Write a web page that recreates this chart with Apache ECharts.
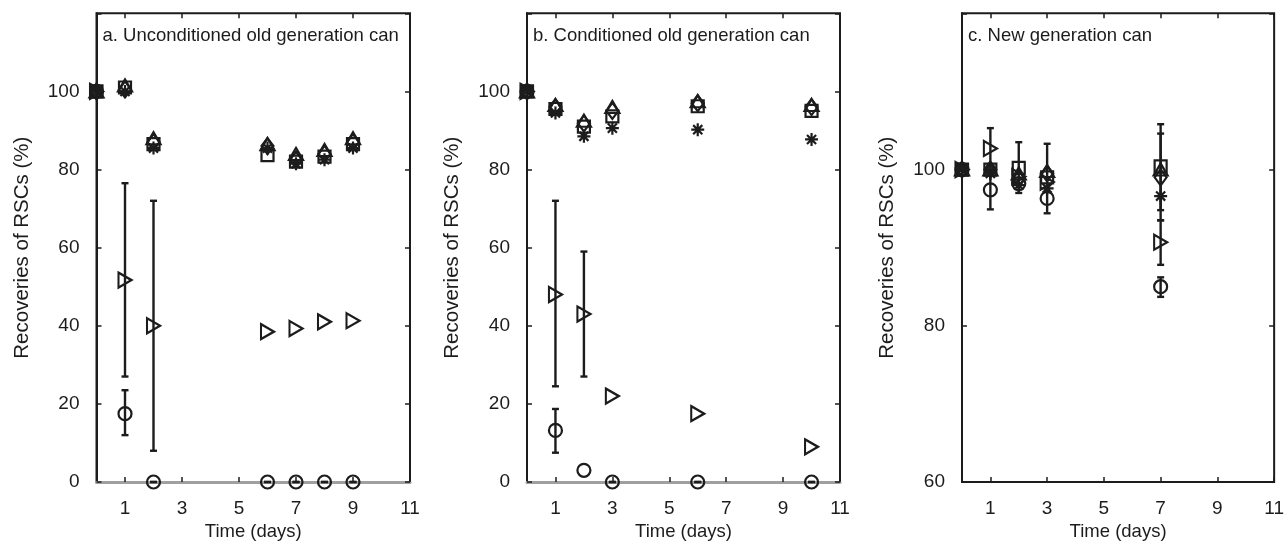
<!DOCTYPE html>
<html>
<head>
<meta charset="utf-8">
<script src="https://cdn.jsdelivr.net/npm/echarts@6/dist/echarts.min.js"></script>
<style>html,body{margin:0;padding:0;background:#fff}#c{width:1287px;height:558px}</style>
</head>
<body>
<div id="c"></div>
<script>
// ---- Data ----
const panelTitles = ['a. Unconditioned old generation can', 'b. Conditioned old generation can', 'c. New generation can'];
const xTicks = [1, 3, 5, 7, 9, 11];
const yLabelsAB = [0, 20, 40, 60, 80, 100];
const yLabelsC = [60, 80, 100];

// Panel a
const daysA = [0, 1, 2, 6, 7, 8, 9];
const circleA = [100, 17.5, 0, 0, 0, 0, 0];
const triRightA = [100, 51.7, 40, 38.5, 39.3, 41, 41.3];
const squareA = [100, 101, 86.5, 83.7, 82, 83.3, 86.5];
const diamondA = [100, 100.5, 87, 86, 82.5, 84, 87];
const triUpA = [100, 101.5, 88, 86.5, 84, 85, 88];
const asteriskA = [100, 100, 85.5, 85.5, 81.5, 82.5, 85.5];
const errA = [[1, 27, 76.5], [1, 12, 23.5], [2, 8, 72],
              [2, 0, 0], [6, 0, 0], [7, 0, 0], [8, 0, 0], [9, 0, 0]];

// Panel b
const daysB = [0, 1, 2, 3, 6, 10];
const circleB = [100, 13.2, 3, 0, 0, 0];
const triRightB = [100, 48, 43, 22, 17.5, 9];
const squareB = [100, 95.5, 91, 93.6, 96.2, 95];
const diamondB = [100, 96, 91.8, 95, 97, 96];
const triUpB = [100, 96.5, 92.5, 96, 97.5, 96.5];
const asteriskB = [100, 94.5, 88.5, 90.6, 90.2, 87.7];
const errB = [[1, 24.5, 72], [1, 7.5, 18.7], [2, 27, 59],
              [3, 0, 0], [6, 0, 0], [10, 0, 0]];

// Panel c
const daysC = [0, 1, 2, 3, 7];
const circleC = [100, 97.4, 98.2, 96.3, 85];
const triRightC = [100, 102.7, 99.1, 98.4, 90.7];
const squareC = [100, 100, 100.2, 99, 100.4];
const diamondC = [100, 100, 98.8, 99.5, 99];
const triUpC = [100, 100, 99.5, 99.8, 100];
const asteriskC = [100, 99.5, 98, 97.6, 96.6];
const errC = [[1, 100, 105.3], [1, 94.9, 99.9], [2, 97, 103.5], [3, 94.4, 103.3],
              [7, 94.8, 105.8], [7, 93.5, 104.6], [7, 87.8, 93.5], [7, 83.7, 86.2]];

// ---- Chart ----
const INK = '#1c1c1c';
const FONT = 'Liberation Sans, Arial, sans-serif';
const grids = [
  {left: 96.5, top: 13.3, width: 313.5, height: 468.7},
  {left: 527, top: 13.3, width: 313, height: 468.7},
  {left: 962, top: 13.3, width: 313, height: 468.7}
];
const yRanges = [[0, 120], [0, 120], [60, 120]];
const yLabelSets = [yLabelsAB, yLabelsAB, yLabelsC];

const symbols = {
  circle: {symbol: 'circle', size: 13},
  triRight: {symbol: 'path://M0,0L10,5L0,10Z', size: [13, 15]},
  square: {symbol: 'rect', size: 12},
  diamond: {symbol: 'diamond', size: [12, 16]},
  triUp: {symbol: 'triangle', size: [14, 12]},
  asterisk: {symbol: 'path://M0,-10L0,10M-10,0L10,0M-7,-7L7,7M-7,7L7,-7', size: 13}
};

const panels = [
  {days: daysA, s: {circle: circleA, triRight: triRightA, square: squareA, diamond: diamondA, triUp: triUpA, asterisk: asteriskA}, err: errA},
  {days: daysB, s: {circle: circleB, triRight: triRightB, square: squareB, diamond: diamondB, triUp: triUpB, asterisk: asteriskB}, err: errB},
  {days: daysC, s: {circle: circleC, triRight: triRightC, square: squareC, diamond: diamondC, triUp: triUpC, asterisk: asteriskC}, err: errC}
];

const xAxes = [], yAxes = [], series = [], titles = [];
const tickStyle = {show: true, inside: true, length: 5, lineStyle: {color: INK, width: 1.5}};
grids.forEach((g, i) => {
  const grayBase = i < 2;
  xAxes.push({
    gridIndex: i, type: 'value', min: 0, max: 11, position: 'bottom',
    name: 'Time (days)', nameLocation: 'middle', nameGap: 40,
    nameTextStyle: {fontFamily: FONT, fontSize: 18.5, color: INK},
    axisLine: {show: true, onZero: false, lineStyle: {color: grayBase ? '#a0a0a0' : INK, width: grayBase ? 3 : 2}},
    axisTick: Object.assign({customValues: xTicks}, tickStyle),
    axisLabel: {fontFamily: FONT, fontSize: 19, color: INK, margin: 17, customValues: xTicks},
    splitLine: {show: false}
  });
  xAxes.push({
    gridIndex: i, type: 'value', min: 0, max: 11, position: 'top',
    axisLine: {show: false, onZero: false},
    axisTick: Object.assign({customValues: xTicks}, tickStyle),
    axisLabel: {show: false}, splitLine: {show: false}
  });
  yAxes.push({
    gridIndex: i, type: 'value', min: yRanges[i][0], max: yRanges[i][1], interval: 20, position: 'left',
    name: 'Recoveries of RSCs (%)', nameLocation: 'middle', nameGap: 64,
    nameTextStyle: {fontFamily: FONT, fontSize: 20.5, color: INK},
    axisLine: {show: true, onZero: false, lineStyle: {color: INK, width: 2}},
    axisTick: tickStyle,
    axisLabel: {fontFamily: FONT, fontSize: 19, color: INK, margin: 17, customValues: yLabelSets[i]},
    splitLine: {show: false}
  });
  yAxes.push({
    gridIndex: i, type: 'value', min: yRanges[i][0], max: yRanges[i][1], interval: 20, position: 'right',
    axisLine: {show: false, onZero: false},
    axisTick: tickStyle,
    axisLabel: {show: false}, splitLine: {show: false}
  });
  titles.push({
    text: panelTitles[i], left: g.left + 6, top: 26, padding: 0,
    textStyle: {fontFamily: FONT, fontSize: 18.5, fontWeight: 'normal', color: INK}
  });

  const p = panels[i];
  series.push({
    type: 'custom', xAxisIndex: 2 * i, yAxisIndex: 2 * i, data: p.err, z: 5, clip: false,
    renderItem: function (params, api) {
      const x = api.value(0), lo = api.value(1), hi = api.value(2);
      const a = api.coord([x, lo]), b = api.coord([x, hi]);
      const w = 3.5, st = {stroke: INK, lineWidth: 2.4};
      return {type: 'group', children: [
        {type: 'line', shape: {x1: a[0], y1: a[1], x2: b[0], y2: b[1]}, style: st},
        {type: 'line', shape: {x1: a[0] - w, y1: a[1], x2: a[0] + w, y2: a[1]}, style: st},
        {type: 'line', shape: {x1: b[0] - w, y1: b[1], x2: b[0] + w, y2: b[1]}, style: st}
      ]};
    }
  });
  Object.keys(symbols).forEach(k => {
    series.push({
      type: 'scatter', name: k, xAxisIndex: 2 * i, yAxisIndex: 2 * i, clip: false, z: 4,
      symbol: symbols[k].symbol, symbolSize: symbols[k].size,
      itemStyle: {color: 'rgba(0,0,0,0)', borderColor: INK, borderWidth: 2.2, opacity: 1},
      data: p.days.map((d, j) => [d, p.s[k][j]])
    });
  });
});

const chart = echarts.init(document.getElementById('c'), null, {renderer: 'canvas'});
chart.setOption({
  animation: false,
  backgroundColor: '#fff',
  title: titles,
  grid: grids.map(g => Object.assign({show: true, borderColor: INK, borderWidth: 2, backgroundColor: 'transparent'}, g)),
  xAxis: xAxes,
  yAxis: yAxes,
  series: series
});
</script>
</body>
</html>
